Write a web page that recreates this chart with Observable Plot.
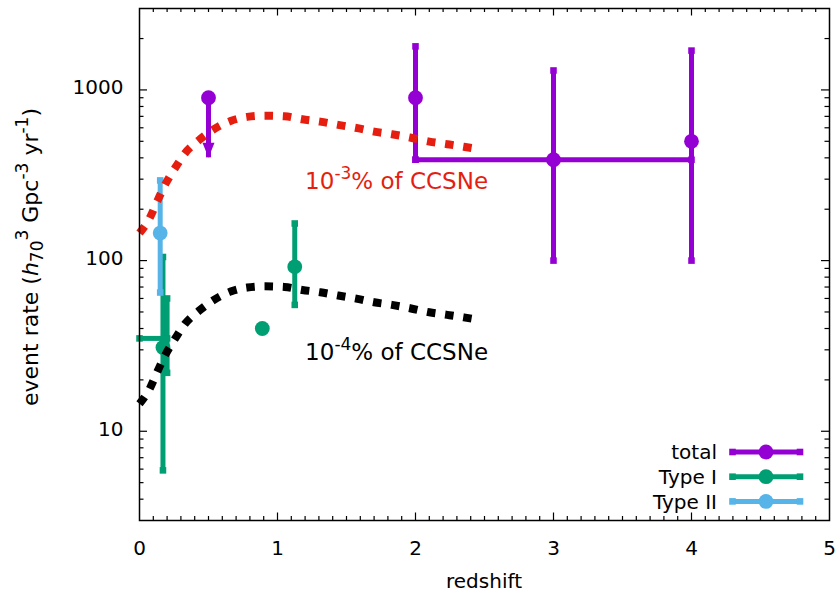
<!DOCTYPE html>
<html><head><meta charset="utf-8">
<script src="https://cdn.jsdelivr.net/npm/d3@7"></script>
<script src="https://cdn.jsdelivr.net/npm/@observablehq/plot@0.6"></script>
<style>body{margin:0;background:#fff;} #chart{width:839px;height:594px;}</style>
</head><body><div id="chart"></div>
<script>
// ---- data ----
const seriesNames = ["total", "Type I", "Type II"];
const seriesColors = ["#9400D3", "#009E73", "#56B4E9"];

// total: measurements with error bars
const totalZ     = [2, 3, 4];
const totalRate  = [900, 390, 500];
const totalLow   = [390, 100, 100];
const totalHigh  = [1800, 1300, 1700];
const totalZLow  = [null, 2, null];
const totalZHigh = [null, 4, null];
// total: upper limit
const limitZ    = [0.5];
const limitRate = [900];
const limitTo   = [400];

// Type I
const typeIZ     = [0.17, 0.2, 0.89, 1.125];
const typeIRate  = [31, 35, 40, 92];
const typeILow   = [5.9, 22, null, 55];
const typeIHigh  = [105, 60, null, 165];
const typeIZLow  = [null, 0, null, null];
const typeIZHigh = [null, 0.2, null, null];
const typeIDot   = [true, false, true, true];

// Type II
const typeIIZ    = [0.15];
const typeIIRate = [145];
const typeIILow  = [65];
const typeIIHigh = [295];

// model curves (fraction of core-collapse SN rate)
const modelZ    = [0, 0.07, 0.13, 0.19, 0.26, 0.33, 0.43, 0.54, 0.66, 0.78, 0.91, 1.05, 1.18, 1.31, 1.44, 1.58, 1.7, 1.83, 1.96, 2.1, 2.23, 2.35, 2.46];
const modelHigh = [145, 175, 224, 283, 351, 426, 507, 589, 658, 695, 707, 701, 673, 652, 624, 597, 570, 550, 526, 498, 481, 465, 449];
const modelLow  = [14.5, 17.5, 22.4, 28.3, 35.1, 42.6, 50.7, 58.9, 65.8, 69.5, 70.7, 70.1, 67.3, 65.2, 62.4, 59.7, 57, 55, 52.6, 49.8, 48.1, 46.5, 44.9];

// annotations
const annZ     = [1.2, 1.2];
const annRate  = [290, 29];
const annText  = ["10-3% of CCSNe", "10-4% of CCSNe"];
const annColor = ["#E51E10", "#000000"];

// ticks
const xTickLabels = [0, 1, 2, 3, 4, 5];
const yTickLabels = [10, 100, 1000];
const yMinorTicks = [4, 5, 6, 7, 8, 9, 20, 30, 40, 50, 60, 70, 80, 90, 200, 300, 400, 500, 600, 700, 800, 900, 2000];

// ---- build tables ----
function rows(series, zs, rates, lows, highs, zlo, zhi, dots) {
  return zs.map((z, i) => ({series, z, rate: rates[i], lo: lows ? lows[i] : null, hi: highs ? highs[i] : null,
    zlo: zlo ? zlo[i] : null, zhi: zhi ? zhi[i] : null, dot: dots ? dots[i] : true}));
}
const groups = [
  rows("total", totalZ, totalRate, totalLow, totalHigh, totalZLow, totalZHigh),
  rows("Type I", typeIZ, typeIRate, typeILow, typeIHigh, typeIZLow, typeIZHigh, typeIDot),
  rows("Type II", typeIIZ, typeIIRate, typeIILow, typeIIHigh)
];
const limits = limitZ.map((z, i) => ({series: "total", z, rate: limitRate[i], to: limitTo[i]}));
const modelHighRows = modelZ.map((z, i) => ({z, v: modelHigh[i]}));
const modelLowRows  = modelZ.map((z, i) => ({z, v: modelLow[i]}));
const ann = annZ.map((z, i) => ({z, rate: annRate[i], text: annText[i], color: annColor[i]}));

const W = 839, H = 594, mL = 139, mR = 10, mT = 8, mB = 74;
const pw = W - mL - mR, ph = H - mT - mB;

const arrowHead = {draw(ctx) { ctx.moveTo(0, 0); ctx.lineTo(-6, -15); ctx.lineTo(6, -15); ctx.closePath(); }};

const BAR = 5, CAP = 3.7, PT = 7.4;
function seriesMarks(data) {
  const yb = data.filter(d => d.lo != null);
  const xb = data.filter(d => d.zlo != null);
  const caps = [];
  yb.forEach(d => { caps.push({series: d.series, z: d.z, rate: d.lo}); caps.push({series: d.series, z: d.z, rate: d.hi}); });
  xb.forEach(d => { caps.push({series: d.series, z: d.zlo, rate: d.rate}); caps.push({series: d.series, z: d.zhi, rate: d.rate}); });
  return [
    Plot.ruleY(xb, {y: "rate", x1: "zlo", x2: "zhi", stroke: "series", strokeWidth: BAR}),
    Plot.ruleX(yb, {x: "z", y1: "lo", y2: "hi", stroke: "series", strokeWidth: BAR}),
    Plot.dot(caps, {x: "z", y: "rate", symbol: "square", r: CAP, fill: "series"}),
    Plot.dot(data.filter(d => d.dot), {x: "z", y: "rate", r: PT, fill: "series"})
  ];
}

const tickStroke = {stroke: "black", strokeWidth: 1.2};
const xMinor = d3.range(1, 50).filter(i => i % 10 !== 0).map(i => i / 10);
const xMajor = xTickLabels.filter(d => d > 0 && d < 5);

const plot = Plot.plot({
  width: W, height: H,
  marginLeft: mL, marginRight: mR, marginTop: mT, marginBottom: mB,
  style: {fontFamily: "DejaVu Sans", fontSize: "20px", background: "white", color: "black"},
  x: {domain: [0, 5]},
  y: {type: "log", domain: [3, 3000]},
  color: {domain: seriesNames, range: seriesColors},
  marks: [
    // inward ticks on all four sides
    Plot.tickX(xMinor, {x: d => d, insetTop: ph - 4, ...tickStroke}),
    Plot.tickX(xMinor, {x: d => d, insetBottom: ph - 4, ...tickStroke}),
    Plot.tickX(xMajor, {x: d => d, insetTop: ph - 7.5, ...tickStroke}),
    Plot.tickX(xMajor, {x: d => d, insetBottom: ph - 7.5, ...tickStroke}),
    Plot.tickY(yMinorTicks, {y: d => d, insetRight: pw - 4.5, ...tickStroke}),
    Plot.tickY(yMinorTicks, {y: d => d, insetLeft: pw - 4.5, ...tickStroke}),
    Plot.tickY(yTickLabels, {y: d => d, insetRight: pw - 8, ...tickStroke}),
    Plot.tickY(yTickLabels, {y: d => d, insetLeft: pw - 8, ...tickStroke}),
    Plot.axisX(xTickLabels, {tickSize: 0, tickPadding: 20, fontSize: 20, label: null, tickFormat: d => String(d)}),
    Plot.axisY(yTickLabels, {tickSize: 0, tickPadding: 16, fontSize: 20, label: null, dy: -2, tickFormat: d => String(d)}),
    // data
    ...seriesMarks(groups[0]),
    Plot.ruleX(limits, {x: "z", y1: "rate", y2: "to", stroke: "series", strokeWidth: BAR}),
    Plot.dot(limits, {x: "z", y: "to", symbol: arrowHead, fill: "series"}),
    Plot.dot(limits, {x: "z", y: "rate", r: PT, fill: "series"}),
    ...seriesMarks(groups[1]),
    ...seriesMarks(groups[2]),
    // model curves
    Plot.line(modelHighRows, {x: "z", y: "v", stroke: "#E51E10", strokeWidth: 8, strokeDasharray: "8.5,9.8", strokeLinecap: "butt", curve: "monotone-x"}),
    Plot.line(modelLowRows, {x: "z", y: "v", stroke: "#000000", strokeWidth: 8, strokeDasharray: "8.5,9.8", strokeLinecap: "butt", curve: "monotone-x"}),
    Plot.text(ann, {x: "z", y: "rate", text: "text", fill: "color", textAnchor: "start", fontSize: 23}),
    Plot.frame({stroke: "black", strokeWidth: 1.5})
  ]
});
document.getElementById("chart").appendChild(plot);

const svg = d3.select(plot);
// superscripts in annotation labels
svg.selectAll("text").each(function() {
  const t = this.textContent;
  const m = /^10(-\d)(% of CCSNe)$/.exec(t);
  if (!m) return;
  const el = d3.select(this);
  el.text(null);
  el.append("tspan").text("10");
  el.append("tspan").attr("dy", -10).attr("font-size", 17).text(m[1]);
  el.append("tspan").attr("dy", 10).text(m[2]);
});

// axis titles
svg.append("text").attr("x", mL + pw / 2).attr("y", 588).attr("text-anchor", "middle")
  .attr("font-size", 20).attr("fill", "black").text("redshift");
const yl = svg.append("text").attr("transform", `translate(38,257) rotate(-90)`)
  .attr("text-anchor", "middle").attr("font-size", 22).attr("fill", "black");
yl.append("tspan").text("event rate (");
yl.append("tspan").attr("font-style", "italic").text("h");
yl.append("tspan").attr("dy", 5).attr("font-size", 17).text("70");
yl.append("tspan").attr("dy", -15).attr("font-size", 17).text("3");
yl.append("tspan").attr("dy", 10).text(" Gpc");
yl.append("tspan").attr("dy", -10).attr("font-size", 17).text("-3");
yl.append("tspan").attr("dy", 10).text(" yr");
yl.append("tspan").attr("dy", -10).attr("font-size", 17).text("-1");
yl.append("tspan").attr("dy", 10).text(")");

// legend
const lg = svg.append("g");
seriesNames.forEach((name, i) => {
  const y = 452 + 24.7 * i, c = seriesColors[i];
  lg.append("text").attr("x", 717).attr("y", y + 7.3).attr("text-anchor", "end").attr("font-size", 20).attr("fill", "black").text(name);
  lg.append("line").attr("x1", 732.5).attr("x2", 800).attr("y1", y).attr("y2", y).attr("stroke", c).attr("stroke-width", BAR);
  [732.5, 800].forEach(x => lg.append("rect").attr("x", x - 3.3).attr("y", y - 3.3).attr("width", 6.6).attr("height", 6.6).attr("fill", c));
  lg.append("circle").attr("cx", 766).attr("cy", y).attr("r", PT).attr("fill", c);
});
</script>
</body></html>
